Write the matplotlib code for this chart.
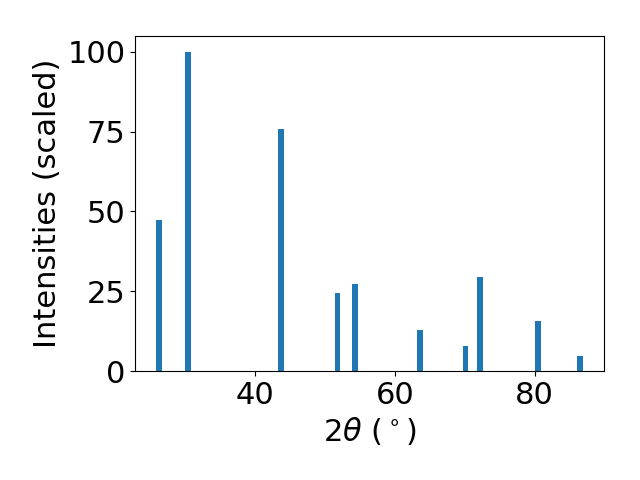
import matplotlib
matplotlib.use('Agg')
import matplotlib.pyplot as plt

# peak positions (2theta, degrees) and scaled intensities
two_theta = [26.27, 30.42, 43.66, 51.79, 54.27, 63.59, 70.11, 72.19, 80.46, 86.48]
intensity = [47.4, 100.0, 75.9, 24.5, 27.3, 12.9, 7.8, 29.5, 15.7, 4.7]

plt.rcParams['font.size'] = 22

fig = plt.figure(figsize=(6.4, 4.8), dpi=100)
ax = fig.add_subplot(111)
ax.bar(two_theta, intensity, width=0.8)

ax.set_xlabel(r'$2\theta$ ($^\circ$)')
ax.set_ylabel('Intensities (scaled)')
ax.set_yticks([0, 25, 50, 75, 100])

fig.subplots_adjust(left=0.211, right=0.944, top=0.925, bottom=0.227)
fig.savefig('out.png', dpi=100)
